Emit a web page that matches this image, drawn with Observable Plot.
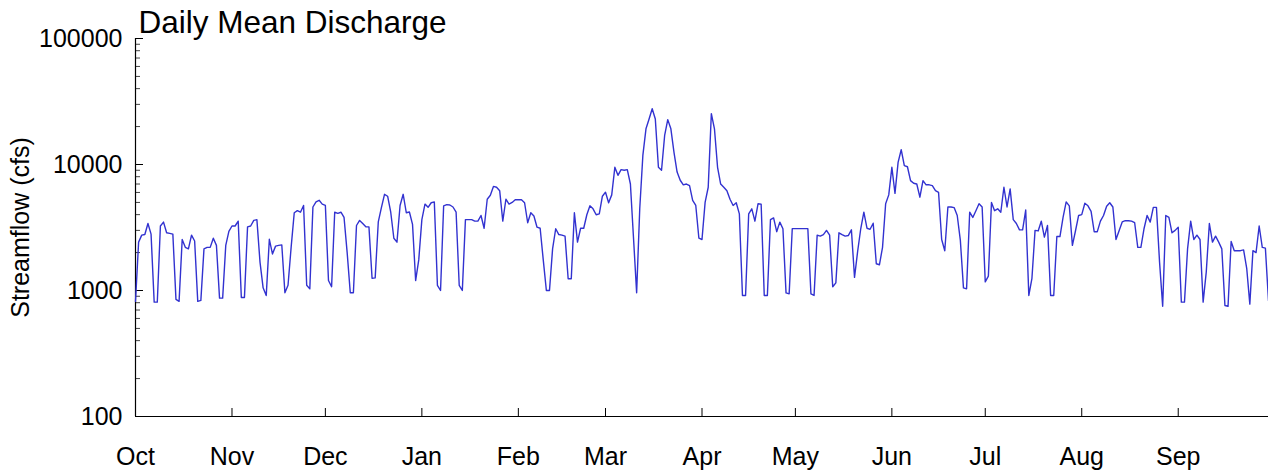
<!DOCTYPE html>
<html><head><meta charset="utf-8">
<script src="https://cdn.jsdelivr.net/npm/d3@7"></script>
<script src="https://cdn.jsdelivr.net/npm/@observablehq/plot@0.6"></script>
<style>
html,body{margin:0;padding:0;background:#fff;}
#chart{width:1268px;height:476px;overflow:hidden;}
</style></head><body><div id="chart"></div>
<script>
const title = "Daily Mean Discharge";
const yLabel = "Streamflow (cfs)";
const monthLabels = ["Oct","Nov","Dec","Jan","Feb","Mar","Apr","May","Jun","Jul","Aug","Sep"];
const yMajorTicks = [100, 1000, 10000, 100000];
const yMinorMultipliers = [2,3,4,5,6,7,8,9];

const flowOct = [820,2420,2750,2780,3400,2800,808,808,3250,3490,2870,2840,2800,850,820,2540,2200,2140,2750,2470,820,835,2140,2200,2200,2600,2280,870,870,2280,2950];
const flowNov = [3250,3250,3550,880,880,3200,3250,3600,3650,1680,1050,913,2550,1950,2250,2280,2300,960,1100,2200,4140,4300,4180,4730,1100,1030,4600,5050,5200,4850];
const flowDec = [4730,1200,1070,4180,4100,4180,3800,2000,960,960,3280,3600,3400,3200,3200,1250,1260,3500,4550,5800,5600,4180,2600,2420,4730,5800,4140,4200,3350,1200,1750];
const flowJan = [3650,4850,4570,4970,5050,1100,1000,4700,4800,4770,4600,4180,1100,1000,3650,3650,3650,3550,3550,3940,3120,5300,5700,6700,6600,6200,3550,5300,4850,5000,5250];
const flowFeb = [5250,5250,4970,3450,4140,3900,3180,3120,1750,1000,1000,2140,3090,2780,2750,2700,1240,1240,4140,2420,3120,3120,3990,4700,4450,3990,4060,5600];
const flowMar = [6030,4970,5740,9500,8200,9100,9000,9100,7000,2600,960,4450,11800,19200,23000,27700,23000,9500,9000,17000,22700,19200,12500,8700,7500,6900,7000,6800,5200,4730,2600];
const flowApr = [2540,5000,6600,25300,19200,9500,7000,6600,6200,5300,4730,4970,4060,913,913,4060,4450,3550,4880,4850,913,913,3650,3770,2930,3490,3090,958,940,3100];
const flowMay = [3100,3100,3100,3100,3100,940,913,2750,2700,2780,3000,2750,1070,1150,2870,2780,2700,2730,3030,1270,2040,3090,4180,3120,3060,3420,1630,1600,2200,4880,5740];
const flowJun = [9500,5900,10400,13100,9800,9600,7450,7100,7000,5500,7450,6900,6900,6800,6200,6000,2540,2070,4600,4600,4550,3940,2500,1050,1030,4180,3800,4300,4880,4600];
const flowJul = [1170,1300,5000,4300,4450,4180,6600,4600,6400,3650,3400,3030,3030,4350,913,1250,3000,2970,3550,2650,3280,913,913,2680,2680,3800,5050,4700,2280,2980,3940];
const flowAug = [4000,4930,4700,4250,2930,2930,3550,3940,4670,4970,4600,2540,2980,3500,3580,3580,3550,3450,2200,2200,3090,3940,3490,4570,4570,1680,750,3940,3800,2870,3000];
const flowSep = [3180,808,808,2140,3550,2540,2750,2540,808,1400,3400,2420,2700,2420,2140,760,750,2450,2070,2070,2070,2100,1500,780,2070,2000,3250,2200,2170,830];

const flows = [flowOct,flowNov,flowDec,flowJan,flowFeb,flowMar,flowApr,flowMay,flowJun,flowJul,flowAug,flowSep].flat();
const start = new Date(Date.UTC(2017, 9, 1));
const data = flows.map((v, i) => ({date: new Date(start.getTime() + i * 864e5), flow: v}));
const end = data[data.length - 1].date;
const monthTicks = monthLabels.map((m, i) => new Date(Date.UTC(2017, 9 + i, 1)));
const yMinorTicks = [100, 1000, 10000].flatMap(d => yMinorMultipliers.map(m => m * d));
const fmtMonth = d => monthLabels[(d.getUTCMonth() + 3) % 12];

const chart = Plot.plot({
  width: 1268,
  height: 476,
  marginLeft: 135,
  marginRight: 0,
  marginTop: 38,
  marginBottom: 60,
  style: {fontFamily: "'Liberation Sans', Arial, sans-serif", fontSize: "25px", background: "#fff", color: "#000", overflow: "visible"},
  x: {type: "utc", domain: [start, end]},
  y: {type: "log", domain: [100, 100000]},
  marks: [
    Plot.axisY({ticks: yMajorTicks, tickSize: 0, tickPadding: 13, tickFormat: d => String(d), fontSize: 25,
      label: yLabel, labelAnchor: "center", labelOffset: 124, labelArrow: "none", labelFontSize: 24}),
    Plot.axisY({ticks: yMajorTicks, tickSize: -8, tickFormat: () => "", label: null, stroke: "#000"}),
    Plot.axisY({ticks: yMinorTicks, tickSize: -5, tickFormat: () => "", label: null, stroke: "#444"}),
    Plot.axisX({ticks: monthTicks, tickSize: 0, tickPadding: 31, tickFormat: fmtMonth, fontSize: 25, label: null}),
    Plot.axisX({ticks: monthTicks.slice(1), tickSize: -8, tickFormat: () => "", label: null, stroke: "#000"}),
    Plot.ruleX([start], {stroke: "#000", strokeWidth: 1.2}),
    Plot.ruleY([100], {stroke: "#000", strokeWidth: 1.2}),
    Plot.lineY(data, {x: "date", y: "flow", stroke: "#3232d0", strokeWidth: 1.4}),
    Plot.text([title], {frameAnchor: "top-left", dx: 3, dy: -6, textAnchor: "start", lineAnchor: "bottom", fontSize: 31.5, fill: "#000"})
  ]
});
document.getElementById("chart").appendChild(chart);
</script>
</body></html>
